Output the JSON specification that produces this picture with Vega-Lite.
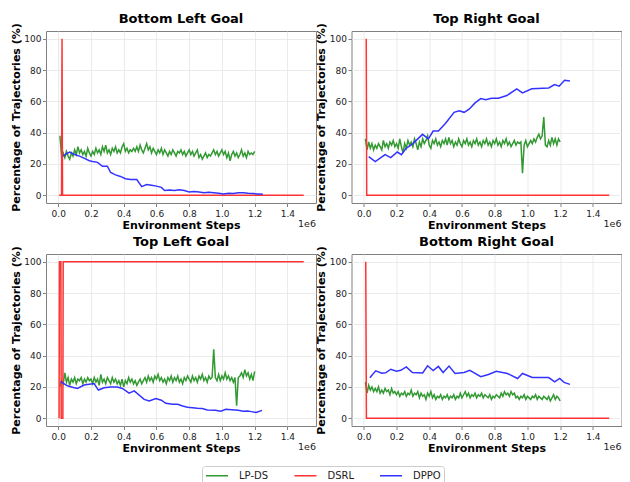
{
  "$schema": "https://vega.github.io/schema/vega-lite/v6.json",
  "padding": {"left": 9, "top": 12, "right": 0, "bottom": 0},
  "background": "white",
  "datasets": {
    "bl": [
      {"m":"LP-DS","x":10000,"y":38},{"m":"LP-DS","x":20000,"y":25},{"m":"LP-DS","x":30000,"y":27},{"m":"LP-DS","x":40000,"y":24},{"m":"LP-DS","x":50000,"y":28},{"m":"LP-DS","x":60000,"y":25},{"m":"LP-DS","x":70000,"y":23},{"m":"LP-DS","x":80000,"y":27},{"m":"LP-DS","x":90000,"y":25},{"m":"LP-DS","x":100000,"y":29},
      {"m":"LP-DS","x":110000,"y":26},{"m":"LP-DS","x":120000,"y":31},{"m":"LP-DS","x":130000,"y":27},{"m":"LP-DS","x":140000,"y":29},{"m":"LP-DS","x":150000,"y":26},{"m":"LP-DS","x":160000,"y":28},{"m":"LP-DS","x":170000,"y":25},{"m":"LP-DS","x":180000,"y":30},{"m":"LP-DS","x":190000,"y":27},{"m":"LP-DS","x":200000,"y":25},
      {"m":"LP-DS","x":210000,"y":28},{"m":"LP-DS","x":220000,"y":26},{"m":"LP-DS","x":230000,"y":30},{"m":"LP-DS","x":240000,"y":27},{"m":"LP-DS","x":250000,"y":29},{"m":"LP-DS","x":260000,"y":26},{"m":"LP-DS","x":270000,"y":31},{"m":"LP-DS","x":280000,"y":28},{"m":"LP-DS","x":290000,"y":32},{"m":"LP-DS","x":300000,"y":27},
      {"m":"LP-DS","x":310000,"y":29},{"m":"LP-DS","x":320000,"y":26},{"m":"LP-DS","x":330000,"y":30},{"m":"LP-DS","x":340000,"y":28},{"m":"LP-DS","x":350000,"y":31},{"m":"LP-DS","x":360000,"y":27},{"m":"LP-DS","x":370000,"y":29},{"m":"LP-DS","x":380000,"y":27},{"m":"LP-DS","x":390000,"y":31},{"m":"LP-DS","x":400000,"y":33},
      {"m":"LP-DS","x":410000,"y":28},{"m":"LP-DS","x":420000,"y":30},{"m":"LP-DS","x":430000,"y":27},{"m":"LP-DS","x":440000,"y":29},{"m":"LP-DS","x":450000,"y":28},{"m":"LP-DS","x":460000,"y":30},{"m":"LP-DS","x":470000,"y":28},{"m":"LP-DS","x":480000,"y":31},{"m":"LP-DS","x":490000,"y":28},{"m":"LP-DS","x":500000,"y":32},
      {"m":"LP-DS","x":510000,"y":29},{"m":"LP-DS","x":520000,"y":27},{"m":"LP-DS","x":530000,"y":30},{"m":"LP-DS","x":540000,"y":33},{"m":"LP-DS","x":550000,"y":29},{"m":"LP-DS","x":560000,"y":31},{"m":"LP-DS","x":570000,"y":27},{"m":"LP-DS","x":580000,"y":30},{"m":"LP-DS","x":590000,"y":28},{"m":"LP-DS","x":600000,"y":26},
      {"m":"LP-DS","x":610000,"y":29},{"m":"LP-DS","x":620000,"y":27},{"m":"LP-DS","x":630000,"y":30},{"m":"LP-DS","x":640000,"y":26},{"m":"LP-DS","x":650000,"y":29},{"m":"LP-DS","x":660000,"y":27},{"m":"LP-DS","x":670000,"y":25},{"m":"LP-DS","x":680000,"y":28},{"m":"LP-DS","x":690000,"y":26},{"m":"LP-DS","x":700000,"y":29},
      {"m":"LP-DS","x":710000,"y":27},{"m":"LP-DS","x":720000,"y":25},{"m":"LP-DS","x":730000,"y":28},{"m":"LP-DS","x":740000,"y":27},{"m":"LP-DS","x":750000,"y":29},{"m":"LP-DS","x":760000,"y":26},{"m":"LP-DS","x":770000,"y":28},{"m":"LP-DS","x":780000,"y":25},{"m":"LP-DS","x":790000,"y":27},{"m":"LP-DS","x":800000,"y":29},
      {"m":"LP-DS","x":810000,"y":26},{"m":"LP-DS","x":820000,"y":28},{"m":"LP-DS","x":830000,"y":25},{"m":"LP-DS","x":840000,"y":27},{"m":"LP-DS","x":850000,"y":29},{"m":"LP-DS","x":860000,"y":24},{"m":"LP-DS","x":870000,"y":26},{"m":"LP-DS","x":880000,"y":23},{"m":"LP-DS","x":890000,"y":25},{"m":"LP-DS","x":900000,"y":27},
      {"m":"LP-DS","x":910000,"y":24},{"m":"LP-DS","x":920000,"y":26},{"m":"LP-DS","x":930000,"y":25},{"m":"LP-DS","x":940000,"y":27},{"m":"LP-DS","x":950000,"y":29},{"m":"LP-DS","x":960000,"y":26},{"m":"LP-DS","x":970000,"y":28},{"m":"LP-DS","x":980000,"y":25},{"m":"LP-DS","x":990000,"y":27},{"m":"LP-DS","x":1000000,"y":29},
      {"m":"LP-DS","x":1010000,"y":26},{"m":"LP-DS","x":1020000,"y":28},{"m":"LP-DS","x":1030000,"y":24},{"m":"LP-DS","x":1040000,"y":27},{"m":"LP-DS","x":1050000,"y":22},{"m":"LP-DS","x":1060000,"y":26},{"m":"LP-DS","x":1070000,"y":28},{"m":"LP-DS","x":1080000,"y":25},{"m":"LP-DS","x":1090000,"y":27},{"m":"LP-DS","x":1100000,"y":24},
      {"m":"LP-DS","x":1110000,"y":26},{"m":"LP-DS","x":1120000,"y":29},{"m":"LP-DS","x":1130000,"y":25},{"m":"LP-DS","x":1140000,"y":27},{"m":"LP-DS","x":1150000,"y":24},{"m":"LP-DS","x":1160000,"y":28},{"m":"LP-DS","x":1170000,"y":26},{"m":"LP-DS","x":1180000,"y":27},{"m":"LP-DS","x":1190000,"y":26},{"m":"LP-DS","x":1200000,"y":28},
      {"m":"DSRL","x":5000,"y":0},{"m":"DSRL","x":20000,"y":0},{"m":"DSRL","x":23000,"y":100},{"m":"DSRL","x":26000,"y":0},{"m":"DSRL","x":1500000,"y":0},
      {"m":"DPPO","x":30000,"y":25},{"m":"DPPO","x":50000,"y":26.5},{"m":"DPPO","x":70000,"y":27.5},{"m":"DPPO","x":100000,"y":26},{"m":"DPPO","x":130000,"y":25},{"m":"DPPO","x":160000,"y":23.5},{"m":"DPPO","x":190000,"y":22},{"m":"DPPO","x":210000,"y":21.5},{"m":"DPPO","x":240000,"y":21},{"m":"DPPO","x":270000,"y":18.5},{"m":"DPPO","x":300000,"y":18.5},{"m":"DPPO","x":320000,"y":14.5},{"m":"DPPO","x":350000,"y":13},{"m":"DPPO","x":380000,"y":12},{"m":"DPPO","x":410000,"y":10.5},{"m":"DPPO","x":440000,"y":10},{"m":"DPPO","x":480000,"y":10},{"m":"DPPO","x":510000,"y":5.5},{"m":"DPPO","x":540000,"y":6.8},{"m":"DPPO","x":570000,"y":6.3},{"m":"DPPO","x":600000,"y":5.8},{"m":"DPPO","x":630000,"y":5},{"m":"DPPO","x":650000,"y":3},{"m":"DPPO","x":680000,"y":3.3},{"m":"DPPO","x":710000,"y":3},{"m":"DPPO","x":740000,"y":3.5},{"m":"DPPO","x":770000,"y":3},{"m":"DPPO","x":800000,"y":2},{"m":"DPPO","x":830000,"y":2.3},{"m":"DPPO","x":860000,"y":2},{"m":"DPPO","x":890000,"y":1.5},{"m":"DPPO","x":920000,"y":1.8},{"m":"DPPO","x":950000,"y":1.5},{"m":"DPPO","x":980000,"y":1.2},{"m":"DPPO","x":1010000,"y":0.8},{"m":"DPPO","x":1040000,"y":1.3},{"m":"DPPO","x":1070000,"y":1.1},{"m":"DPPO","x":1100000,"y":1.5},{"m":"DPPO","x":1130000,"y":1.6},{"m":"DPPO","x":1160000,"y":1.2},{"m":"DPPO","x":1190000,"y":1},{"m":"DPPO","x":1220000,"y":0.8},{"m":"DPPO","x":1250000,"y":0.6}
    ],
    "tr": [
      {"m":"LP-DS","x":10000,"y":36},{"m":"LP-DS","x":20000,"y":29},{"m":"LP-DS","x":30000,"y":34},{"m":"LP-DS","x":40000,"y":30},{"m":"LP-DS","x":50000,"y":33},{"m":"LP-DS","x":60000,"y":29},{"m":"LP-DS","x":70000,"y":32},{"m":"LP-DS","x":80000,"y":30},{"m":"LP-DS","x":90000,"y":33},{"m":"LP-DS","x":100000,"y":31},
      {"m":"LP-DS","x":110000,"y":29},{"m":"LP-DS","x":120000,"y":35},{"m":"LP-DS","x":130000,"y":31},{"m":"LP-DS","x":140000,"y":33},{"m":"LP-DS","x":150000,"y":30},{"m":"LP-DS","x":160000,"y":34},{"m":"LP-DS","x":170000,"y":32},{"m":"LP-DS","x":180000,"y":35},{"m":"LP-DS","x":190000,"y":31},{"m":"LP-DS","x":200000,"y":33},
      {"m":"LP-DS","x":210000,"y":30},{"m":"LP-DS","x":220000,"y":36},{"m":"LP-DS","x":230000,"y":31},{"m":"LP-DS","x":240000,"y":27},{"m":"LP-DS","x":250000,"y":33},{"m":"LP-DS","x":260000,"y":30},{"m":"LP-DS","x":270000,"y":35},{"m":"LP-DS","x":280000,"y":32},{"m":"LP-DS","x":290000,"y":34},{"m":"LP-DS","x":300000,"y":31},
      {"m":"LP-DS","x":310000,"y":36},{"m":"LP-DS","x":320000,"y":33},{"m":"LP-DS","x":330000,"y":29},{"m":"LP-DS","x":340000,"y":34},{"m":"LP-DS","x":350000,"y":31},{"m":"LP-DS","x":360000,"y":36},{"m":"LP-DS","x":370000,"y":33},{"m":"LP-DS","x":380000,"y":35},{"m":"LP-DS","x":390000,"y":38},{"m":"LP-DS","x":400000,"y":32},
      {"m":"LP-DS","x":410000,"y":30},{"m":"LP-DS","x":420000,"y":35},{"m":"LP-DS","x":430000,"y":33},{"m":"LP-DS","x":440000,"y":36},{"m":"LP-DS","x":450000,"y":32},{"m":"LP-DS","x":460000,"y":34},{"m":"LP-DS","x":470000,"y":31},{"m":"LP-DS","x":480000,"y":35},{"m":"LP-DS","x":490000,"y":33},{"m":"LP-DS","x":500000,"y":36},
      {"m":"LP-DS","x":510000,"y":32},{"m":"LP-DS","x":520000,"y":37},{"m":"LP-DS","x":530000,"y":33},{"m":"LP-DS","x":540000,"y":35},{"m":"LP-DS","x":550000,"y":31},{"m":"LP-DS","x":560000,"y":34},{"m":"LP-DS","x":570000,"y":32},{"m":"LP-DS","x":580000,"y":36},{"m":"LP-DS","x":590000,"y":33},{"m":"LP-DS","x":600000,"y":31},
      {"m":"LP-DS","x":610000,"y":35},{"m":"LP-DS","x":620000,"y":33},{"m":"LP-DS","x":630000,"y":36},{"m":"LP-DS","x":640000,"y":32},{"m":"LP-DS","x":650000,"y":34},{"m":"LP-DS","x":660000,"y":31},{"m":"LP-DS","x":670000,"y":35},{"m":"LP-DS","x":680000,"y":33},{"m":"LP-DS","x":690000,"y":36},{"m":"LP-DS","x":700000,"y":32},
      {"m":"LP-DS","x":710000,"y":34},{"m":"LP-DS","x":720000,"y":31},{"m":"LP-DS","x":730000,"y":35},{"m":"LP-DS","x":740000,"y":33},{"m":"LP-DS","x":750000,"y":36},{"m":"LP-DS","x":760000,"y":32},{"m":"LP-DS","x":770000,"y":34},{"m":"LP-DS","x":780000,"y":31},{"m":"LP-DS","x":790000,"y":35},{"m":"LP-DS","x":800000,"y":33},
      {"m":"LP-DS","x":810000,"y":36},{"m":"LP-DS","x":820000,"y":32},{"m":"LP-DS","x":830000,"y":34},{"m":"LP-DS","x":840000,"y":31},{"m":"LP-DS","x":850000,"y":35},{"m":"LP-DS","x":860000,"y":33},{"m":"LP-DS","x":870000,"y":36},{"m":"LP-DS","x":880000,"y":32},{"m":"LP-DS","x":890000,"y":34},{"m":"LP-DS","x":900000,"y":31},
      {"m":"LP-DS","x":910000,"y":33},{"m":"LP-DS","x":920000,"y":35},{"m":"LP-DS","x":930000,"y":32},{"m":"LP-DS","x":940000,"y":34},{"m":"LP-DS","x":950000,"y":33},{"m":"LP-DS","x":960000,"y":34},{"m":"LP-DS","x":970000,"y":14},{"m":"LP-DS","x":980000,"y":32},{"m":"LP-DS","x":990000,"y":35},{"m":"LP-DS","x":1000000,"y":31},
      {"m":"LP-DS","x":1010000,"y":33},{"m":"LP-DS","x":1020000,"y":35},{"m":"LP-DS","x":1030000,"y":33},{"m":"LP-DS","x":1040000,"y":36},{"m":"LP-DS","x":1050000,"y":34},{"m":"LP-DS","x":1060000,"y":37},{"m":"LP-DS","x":1070000,"y":39},{"m":"LP-DS","x":1080000,"y":36},{"m":"LP-DS","x":1090000,"y":38},{"m":"LP-DS","x":1100000,"y":50},
      {"m":"LP-DS","x":1110000,"y":32},{"m":"LP-DS","x":1120000,"y":31},{"m":"LP-DS","x":1130000,"y":35},{"m":"LP-DS","x":1140000,"y":32},{"m":"LP-DS","x":1150000,"y":37},{"m":"LP-DS","x":1160000,"y":33},{"m":"LP-DS","x":1170000,"y":36},{"m":"LP-DS","x":1180000,"y":32},{"m":"LP-DS","x":1190000,"y":36},{"m":"LP-DS","x":1200000,"y":34},
      {"m":"DSRL","x":15000,"y":100},{"m":"DSRL","x":18000,"y":0},{"m":"DSRL","x":1500000,"y":0},
      {"m":"DPPO","x":30000,"y":24.6},{"m":"DPPO","x":70000,"y":21.5},{"m":"DPPO","x":130000,"y":26},{"m":"DPPO","x":165000,"y":24},{"m":"DPPO","x":205000,"y":27.6},{"m":"DPPO","x":230000,"y":25.9},{"m":"DPPO","x":256000,"y":29.7},{"m":"DPPO","x":300000,"y":33},{"m":"DPPO","x":330000,"y":36},{"m":"DPPO","x":359000,"y":38.9},{"m":"DPPO","x":395000,"y":36},{"m":"DPPO","x":424000,"y":41},{"m":"DPPO","x":456000,"y":41},{"m":"DPPO","x":500000,"y":46},{"m":"DPPO","x":552000,"y":53},{"m":"DPPO","x":583000,"y":54},{"m":"DPPO","x":613000,"y":53},{"m":"DPPO","x":644000,"y":55},{"m":"DPPO","x":680000,"y":59},{"m":"DPPO","x":715000,"y":61.8},{"m":"DPPO","x":746000,"y":61},{"m":"DPPO","x":780000,"y":62},{"m":"DPPO","x":823000,"y":62},{"m":"DPPO","x":874000,"y":63.7},{"m":"DPPO","x":935000,"y":68},{"m":"DPPO","x":970000,"y":65.4},{"m":"DPPO","x":1027000,"y":68},{"m":"DPPO","x":1130000,"y":68.6},{"m":"DPPO","x":1166000,"y":70.7},{"m":"DPPO","x":1194000,"y":69.7},{"m":"DPPO","x":1227000,"y":73.5},{"m":"DPPO","x":1260000,"y":73}
    ],
    "tl": [
      {"m":"LP-DS","x":10000,"y":20},{"m":"LP-DS","x":20000,"y":24},{"m":"LP-DS","x":30000,"y":22},{"m":"LP-DS","x":40000,"y":29},{"m":"LP-DS","x":50000,"y":23},{"m":"LP-DS","x":60000,"y":26},{"m":"LP-DS","x":70000,"y":21},{"m":"LP-DS","x":80000,"y":25},{"m":"LP-DS","x":90000,"y":23},{"m":"LP-DS","x":100000,"y":26},
      {"m":"LP-DS","x":110000,"y":22},{"m":"LP-DS","x":120000,"y":25},{"m":"LP-DS","x":130000,"y":24},{"m":"LP-DS","x":140000,"y":26},{"m":"LP-DS","x":150000,"y":22},{"m":"LP-DS","x":160000,"y":25},{"m":"LP-DS","x":170000,"y":23},{"m":"LP-DS","x":180000,"y":26},{"m":"LP-DS","x":190000,"y":24},{"m":"LP-DS","x":200000,"y":25},
      {"m":"LP-DS","x":210000,"y":22},{"m":"LP-DS","x":220000,"y":26},{"m":"LP-DS","x":230000,"y":23},{"m":"LP-DS","x":240000,"y":25},{"m":"LP-DS","x":250000,"y":21},{"m":"LP-DS","x":260000,"y":28},{"m":"LP-DS","x":270000,"y":23},{"m":"LP-DS","x":280000,"y":25},{"m":"LP-DS","x":290000,"y":22},{"m":"LP-DS","x":300000,"y":26},
      {"m":"LP-DS","x":310000,"y":24},{"m":"LP-DS","x":320000,"y":22},{"m":"LP-DS","x":330000,"y":26},{"m":"LP-DS","x":340000,"y":23},{"m":"LP-DS","x":350000,"y":25},{"m":"LP-DS","x":360000,"y":22},{"m":"LP-DS","x":370000,"y":24},{"m":"LP-DS","x":380000,"y":21},{"m":"LP-DS","x":390000,"y":25},{"m":"LP-DS","x":400000,"y":20},
      {"m":"LP-DS","x":410000,"y":24},{"m":"LP-DS","x":420000,"y":22},{"m":"LP-DS","x":430000,"y":26},{"m":"LP-DS","x":440000,"y":23},{"m":"LP-DS","x":450000,"y":25},{"m":"LP-DS","x":460000,"y":22},{"m":"LP-DS","x":470000,"y":24},{"m":"LP-DS","x":480000,"y":21},{"m":"LP-DS","x":490000,"y":23},{"m":"LP-DS","x":500000,"y":25},
      {"m":"LP-DS","x":510000,"y":22},{"m":"LP-DS","x":520000,"y":24},{"m":"LP-DS","x":530000,"y":26},{"m":"LP-DS","x":540000,"y":23},{"m":"LP-DS","x":550000,"y":27},{"m":"LP-DS","x":560000,"y":24},{"m":"LP-DS","x":570000,"y":26},{"m":"LP-DS","x":580000,"y":23},{"m":"LP-DS","x":590000,"y":27},{"m":"LP-DS","x":600000,"y":25},
      {"m":"LP-DS","x":610000,"y":28},{"m":"LP-DS","x":620000,"y":24},{"m":"LP-DS","x":630000,"y":26},{"m":"LP-DS","x":640000,"y":23},{"m":"LP-DS","x":650000,"y":25},{"m":"LP-DS","x":660000,"y":22},{"m":"LP-DS","x":670000,"y":26},{"m":"LP-DS","x":680000,"y":24},{"m":"LP-DS","x":690000,"y":27},{"m":"LP-DS","x":700000,"y":23},
      {"m":"LP-DS","x":710000,"y":26},{"m":"LP-DS","x":720000,"y":24},{"m":"LP-DS","x":730000,"y":27},{"m":"LP-DS","x":740000,"y":23},{"m":"LP-DS","x":750000,"y":25},{"m":"LP-DS","x":760000,"y":22},{"m":"LP-DS","x":770000,"y":26},{"m":"LP-DS","x":780000,"y":24},{"m":"LP-DS","x":790000,"y":27},{"m":"LP-DS","x":800000,"y":25},
      {"m":"LP-DS","x":810000,"y":23},{"m":"LP-DS","x":820000,"y":27},{"m":"LP-DS","x":830000,"y":24},{"m":"LP-DS","x":840000,"y":26},{"m":"LP-DS","x":850000,"y":23},{"m":"LP-DS","x":860000,"y":27},{"m":"LP-DS","x":870000,"y":25},{"m":"LP-DS","x":880000,"y":28},{"m":"LP-DS","x":890000,"y":24},{"m":"LP-DS","x":900000,"y":26},
      {"m":"LP-DS","x":910000,"y":23},{"m":"LP-DS","x":920000,"y":27},{"m":"LP-DS","x":930000,"y":25},{"m":"LP-DS","x":940000,"y":26},{"m":"LP-DS","x":950000,"y":44},{"m":"LP-DS","x":960000,"y":26},{"m":"LP-DS","x":970000,"y":24},{"m":"LP-DS","x":980000,"y":28},{"m":"LP-DS","x":990000,"y":24},{"m":"LP-DS","x":1000000,"y":27},
      {"m":"LP-DS","x":1010000,"y":25},{"m":"LP-DS","x":1020000,"y":29},{"m":"LP-DS","x":1030000,"y":25},{"m":"LP-DS","x":1040000,"y":27},{"m":"LP-DS","x":1050000,"y":24},{"m":"LP-DS","x":1060000,"y":26},{"m":"LP-DS","x":1070000,"y":23},{"m":"LP-DS","x":1080000,"y":26},{"m":"LP-DS","x":1090000,"y":8},{"m":"LP-DS","x":1100000,"y":26},
      {"m":"LP-DS","x":1110000,"y":27},{"m":"LP-DS","x":1120000,"y":29},{"m":"LP-DS","x":1130000,"y":26},{"m":"LP-DS","x":1140000,"y":31},{"m":"LP-DS","x":1150000,"y":27},{"m":"LP-DS","x":1160000,"y":29},{"m":"LP-DS","x":1170000,"y":25},{"m":"LP-DS","x":1180000,"y":28},{"m":"LP-DS","x":1190000,"y":24},{"m":"LP-DS","x":1200000,"y":30},
      {"m":"DSRL","x":5000,"y":0},{"m":"DSRL","x":7000,"y":100},{"m":"DSRL","x":16000,"y":100},{"m":"DSRL","x":18000,"y":0},{"m":"DSRL","x":28000,"y":0},{"m":"DSRL","x":30000,"y":100},{"m":"DSRL","x":1500000,"y":100},
      {"m":"DPPO","x":15000,"y":23.3},{"m":"DPPO","x":56000,"y":20.7},{"m":"DPPO","x":80000,"y":20},{"m":"DPPO","x":117000,"y":19},{"m":"DPPO","x":158000,"y":21.2},{"m":"DPPO","x":219000,"y":22.2},{"m":"DPPO","x":245000,"y":18},{"m":"DPPO","x":280000,"y":19.5},{"m":"DPPO","x":320000,"y":20},{"m":"DPPO","x":360000,"y":20},{"m":"DPPO","x":392000,"y":19},{"m":"DPPO","x":433000,"y":16},{"m":"DPPO","x":464000,"y":17.5},{"m":"DPPO","x":525000,"y":12},{"m":"DPPO","x":556000,"y":11},{"m":"DPPO","x":596000,"y":12.5},{"m":"DPPO","x":630000,"y":11.5},{"m":"DPPO","x":657000,"y":9.5},{"m":"DPPO","x":700000,"y":8.9},{"m":"DPPO","x":730000,"y":8.9},{"m":"DPPO","x":760000,"y":7.8},{"m":"DPPO","x":790000,"y":7},{"m":"DPPO","x":850000,"y":6.3},{"m":"DPPO","x":880000,"y":6.2},{"m":"DPPO","x":910000,"y":5.3},{"m":"DPPO","x":960000,"y":5},{"m":"DPPO","x":993000,"y":4.4},{"m":"DPPO","x":1024000,"y":5.7},{"m":"DPPO","x":1060000,"y":5.4},{"m":"DPPO","x":1100000,"y":5},{"m":"DPPO","x":1130000,"y":4.5},{"m":"DPPO","x":1157000,"y":4.6},{"m":"DPPO","x":1180000,"y":4.2},{"m":"DPPO","x":1210000,"y":3.6},{"m":"DPPO","x":1245000,"y":5}
    ],
    "br": [
      {"m":"LP-DS","x":10000,"y":23},{"m":"LP-DS","x":20000,"y":16},{"m":"LP-DS","x":30000,"y":21},{"m":"LP-DS","x":40000,"y":18},{"m":"LP-DS","x":50000,"y":20},{"m":"LP-DS","x":60000,"y":17},{"m":"LP-DS","x":70000,"y":19},{"m":"LP-DS","x":80000,"y":17},{"m":"LP-DS","x":90000,"y":20},{"m":"LP-DS","x":100000,"y":16},
      {"m":"LP-DS","x":110000,"y":18},{"m":"LP-DS","x":120000,"y":16},{"m":"LP-DS","x":130000,"y":19},{"m":"LP-DS","x":140000,"y":17},{"m":"LP-DS","x":150000,"y":18},{"m":"LP-DS","x":160000,"y":15},{"m":"LP-DS","x":170000,"y":19},{"m":"LP-DS","x":180000,"y":16},{"m":"LP-DS","x":190000,"y":17},{"m":"LP-DS","x":200000,"y":15},
      {"m":"LP-DS","x":210000,"y":17},{"m":"LP-DS","x":220000,"y":14},{"m":"LP-DS","x":230000,"y":16},{"m":"LP-DS","x":240000,"y":15},{"m":"LP-DS","x":250000,"y":17},{"m":"LP-DS","x":260000,"y":14},{"m":"LP-DS","x":270000,"y":16},{"m":"LP-DS","x":280000,"y":15},{"m":"LP-DS","x":290000,"y":18},{"m":"LP-DS","x":300000,"y":14},
      {"m":"LP-DS","x":310000,"y":16},{"m":"LP-DS","x":320000,"y":15},{"m":"LP-DS","x":330000,"y":17},{"m":"LP-DS","x":340000,"y":13},{"m":"LP-DS","x":350000,"y":16},{"m":"LP-DS","x":360000,"y":14},{"m":"LP-DS","x":370000,"y":15},{"m":"LP-DS","x":380000,"y":12},{"m":"LP-DS","x":390000,"y":16},{"m":"LP-DS","x":400000,"y":14},
      {"m":"LP-DS","x":410000,"y":17},{"m":"LP-DS","x":420000,"y":13},{"m":"LP-DS","x":430000,"y":15},{"m":"LP-DS","x":440000,"y":12},{"m":"LP-DS","x":450000,"y":14},{"m":"LP-DS","x":460000,"y":13},{"m":"LP-DS","x":470000,"y":15},{"m":"LP-DS","x":480000,"y":12},{"m":"LP-DS","x":490000,"y":14},{"m":"LP-DS","x":500000,"y":13},
      {"m":"LP-DS","x":510000,"y":15},{"m":"LP-DS","x":520000,"y":12},{"m":"LP-DS","x":530000,"y":14},{"m":"LP-DS","x":540000,"y":13},{"m":"LP-DS","x":550000,"y":15},{"m":"LP-DS","x":560000,"y":12},{"m":"LP-DS","x":570000,"y":14},{"m":"LP-DS","x":580000,"y":13},{"m":"LP-DS","x":590000,"y":16},{"m":"LP-DS","x":600000,"y":13},
      {"m":"LP-DS","x":610000,"y":15},{"m":"LP-DS","x":620000,"y":17},{"m":"LP-DS","x":630000,"y":14},{"m":"LP-DS","x":640000,"y":16},{"m":"LP-DS","x":650000,"y":13},{"m":"LP-DS","x":660000,"y":15},{"m":"LP-DS","x":670000,"y":14},{"m":"LP-DS","x":680000,"y":16},{"m":"LP-DS","x":690000,"y":13},{"m":"LP-DS","x":700000,"y":15},
      {"m":"LP-DS","x":710000,"y":14},{"m":"LP-DS","x":720000,"y":16},{"m":"LP-DS","x":730000,"y":13},{"m":"LP-DS","x":740000,"y":15},{"m":"LP-DS","x":750000,"y":14},{"m":"LP-DS","x":760000,"y":13},{"m":"LP-DS","x":770000,"y":15},{"m":"LP-DS","x":780000,"y":12},{"m":"LP-DS","x":790000,"y":14},{"m":"LP-DS","x":800000,"y":13},
      {"m":"LP-DS","x":810000,"y":15},{"m":"LP-DS","x":820000,"y":14},{"m":"LP-DS","x":830000,"y":13},{"m":"LP-DS","x":840000,"y":16},{"m":"LP-DS","x":850000,"y":14},{"m":"LP-DS","x":860000,"y":17},{"m":"LP-DS","x":870000,"y":15},{"m":"LP-DS","x":880000,"y":16},{"m":"LP-DS","x":890000,"y":14},{"m":"LP-DS","x":900000,"y":17},
      {"m":"LP-DS","x":910000,"y":15},{"m":"LP-DS","x":920000,"y":16},{"m":"LP-DS","x":930000,"y":13},{"m":"LP-DS","x":940000,"y":14},{"m":"LP-DS","x":950000,"y":12},{"m":"LP-DS","x":960000,"y":14},{"m":"LP-DS","x":970000,"y":13},{"m":"LP-DS","x":980000,"y":15},{"m":"LP-DS","x":990000,"y":12},{"m":"LP-DS","x":1000000,"y":14},
      {"m":"LP-DS","x":1010000,"y":13},{"m":"LP-DS","x":1020000,"y":12},{"m":"LP-DS","x":1030000,"y":14},{"m":"LP-DS","x":1040000,"y":13},{"m":"LP-DS","x":1050000,"y":15},{"m":"LP-DS","x":1060000,"y":12},{"m":"LP-DS","x":1070000,"y":14},{"m":"LP-DS","x":1080000,"y":13},{"m":"LP-DS","x":1090000,"y":12},{"m":"LP-DS","x":1100000,"y":14},
      {"m":"LP-DS","x":1110000,"y":13},{"m":"LP-DS","x":1120000,"y":12},{"m":"LP-DS","x":1130000,"y":14},{"m":"LP-DS","x":1140000,"y":11},{"m":"LP-DS","x":1150000,"y":13},{"m":"LP-DS","x":1160000,"y":15},{"m":"LP-DS","x":1170000,"y":12},{"m":"LP-DS","x":1180000,"y":14},{"m":"LP-DS","x":1190000,"y":13},{"m":"LP-DS","x":1200000,"y":11},
      {"m":"DSRL","x":12000,"y":100},{"m":"DSRL","x":16000,"y":0},{"m":"DSRL","x":1500000,"y":0},
      {"m":"DPPO","x":37000,"y":25.8},{"m":"DPPO","x":73000,"y":30.3},{"m":"DPPO","x":110000,"y":28.8},{"m":"DPPO","x":134000,"y":29},{"m":"DPPO","x":165000,"y":31.3},{"m":"DPPO","x":200000,"y":30},{"m":"DPPO","x":226000,"y":30.6},{"m":"DPPO","x":260000,"y":32.8},{"m":"DPPO","x":297000,"y":29.2},{"m":"DPPO","x":360000,"y":28.9},{"m":"DPPO","x":390000,"y":33.5},{"m":"DPPO","x":424000,"y":30.5},{"m":"DPPO","x":456000,"y":33.1},{"m":"DPPO","x":485000,"y":29.2},{"m":"DPPO","x":521000,"y":33.3},{"m":"DPPO","x":558000,"y":28.6},{"m":"DPPO","x":613000,"y":29.2},{"m":"DPPO","x":648000,"y":30.6},{"m":"DPPO","x":715000,"y":26.5},{"m":"DPPO","x":762000,"y":27.9},{"m":"DPPO","x":810000,"y":30},{"m":"DPPO","x":878000,"y":28.6},{"m":"DPPO","x":940000,"y":25.4},{"m":"DPPO","x":970000,"y":28.6},{"m":"DPPO","x":1030000,"y":26},{"m":"DPPO","x":1130000,"y":26},{"m":"DPPO","x":1167000,"y":23.3},{"m":"DPPO","x":1197000,"y":25.4},{"m":"DPPO","x":1224000,"y":22.9},{"m":"DPPO","x":1260000,"y":21.6}
    ]
  },
  "columns": 2,
  "spacing": {"row": 4, "column": -2.5},
  "concat": [
    {
      "title": "Bottom Left Goal",
      "width": 270, "height": 172,
      "data": {"name": "bl"},
      "layer": [
        {"mark": {"type": "line", "strokeWidth": 1.5},
         "encoding": {
           "x": {"field": "x", "type": "quantitative", "scale": {"domain": [-75000, 1575000], "nice": false, "zero": false}, "axis": {"values": [0,200000,400000,600000,800000,1000000,1200000,1400000], "labelExpr": "format(datum.value/1000000,'.1f')", "title": "Environment Steps"}},
           "y": {"field": "y", "type": "quantitative", "scale": {"domain": [-5, 105], "nice": false, "zero": false}, "axis": {"values": [0,20,40,60,80,100], "title": "Percentage of Trajectories (%)"}},
           "color": {"field": "m", "type": "nominal", "sort": ["LP-DS","DSRL","DPPO"], "scale": {"domain": ["LP-DS","DSRL","DPPO"], "range": ["#339933","#ff3333","#3333ff"]}, "legend": {"orient": "none", "legendX": 156, "legendY": 435, "direction": "horizontal", "title": null, "symbolType": "M-1,0H3", "symbolSize": 121, "symbolStrokeWidth": 1.5, "labelFontSize": 10, "labelOffset": 21, "columnPadding": 22.5, "padding": 3, "strokeColor": "#cccccc", "fillColor": "white", "cornerRadius": 3}}
         }},
        {"transform": [{"filter": "datum.m == 'DSRL' && datum.x == 1500000"}],
         "mark": {"type": "text", "text": "1e6", "align": "right", "baseline": "middle", "dy": 20.5, "fontSize": 9.5, "font": "DejaVu Sans", "color": "#222222"},
         "encoding": {
           "x": {"datum": 1575000, "type": "quantitative", "axis": {"values": [0,200000,400000,600000,800000,1000000,1200000,1400000], "labelExpr": "format(datum.value/1000000,'.1f')", "title": "Environment Steps"}},
           "y": {"datum": -5, "type": "quantitative", "axis": {"values": [0,20,40,60,80,100], "title": "Percentage of Trajectories (%)"}}}}
      ]
    },
    {
      "title": "Top Right Goal",
      "width": 270, "height": 172,
      "data": {"name": "tr"},
      "layer": [
        {"mark": {"type": "line", "strokeWidth": 1.5},
         "encoding": {
           "x": {"field": "x", "type": "quantitative", "scale": {"domain": [-75000, 1575000], "nice": false, "zero": false}, "axis": {"values": [0,200000,400000,600000,800000,1000000,1200000,1400000], "labelExpr": "format(datum.value/1000000,'.1f')", "title": "Environment Steps"}},
           "y": {"field": "y", "type": "quantitative", "scale": {"domain": [-5, 105], "nice": false, "zero": false}, "axis": {"values": [0,20,40,60,80,100], "title": "Percentage of Trajectories (%)"}},
           "color": {"field": "m", "type": "nominal", "sort": ["LP-DS","DSRL","DPPO"], "scale": {"domain": ["LP-DS","DSRL","DPPO"], "range": ["#339933","#ff3333","#3333ff"]}}
         }},
        {"transform": [{"filter": "datum.m == 'DSRL' && datum.x == 1500000"}],
         "mark": {"type": "text", "text": "1e6", "align": "right", "baseline": "middle", "dy": 20.5, "fontSize": 9.5, "font": "DejaVu Sans", "color": "#222222"},
         "encoding": {
           "x": {"datum": 1575000, "type": "quantitative", "axis": {"values": [0,200000,400000,600000,800000,1000000,1200000,1400000], "labelExpr": "format(datum.value/1000000,'.1f')", "title": "Environment Steps"}},
           "y": {"datum": -5, "type": "quantitative", "axis": {"values": [0,20,40,60,80,100], "title": "Percentage of Trajectories (%)"}}}}
      ]
    },
    {
      "title": "Top Left Goal",
      "width": 270, "height": 172,
      "data": {"name": "tl"},
      "layer": [
        {"mark": {"type": "line", "strokeWidth": 1.5},
         "encoding": {
           "x": {"field": "x", "type": "quantitative", "scale": {"domain": [-75000, 1575000], "nice": false, "zero": false}, "axis": {"values": [0,200000,400000,600000,800000,1000000,1200000,1400000], "labelExpr": "format(datum.value/1000000,'.1f')", "title": "Environment Steps"}},
           "y": {"field": "y", "type": "quantitative", "scale": {"domain": [-5, 105], "nice": false, "zero": false}, "axis": {"values": [0,20,40,60,80,100], "title": "Percentage of Trajectories (%)"}},
           "color": {"field": "m", "type": "nominal", "sort": ["LP-DS","DSRL","DPPO"], "scale": {"domain": ["LP-DS","DSRL","DPPO"], "range": ["#339933","#ff3333","#3333ff"]}}
         }},
        {"transform": [{"filter": "datum.m == 'DSRL' && datum.x == 1500000"}],
         "mark": {"type": "text", "text": "1e6", "align": "right", "baseline": "middle", "dy": 20.5, "fontSize": 9.5, "font": "DejaVu Sans", "color": "#222222"},
         "encoding": {
           "x": {"datum": 1575000, "type": "quantitative", "axis": {"values": [0,200000,400000,600000,800000,1000000,1200000,1400000], "labelExpr": "format(datum.value/1000000,'.1f')", "title": "Environment Steps"}},
           "y": {"datum": -5, "type": "quantitative", "axis": {"values": [0,20,40,60,80,100], "title": "Percentage of Trajectories (%)"}}}}
      ]
    },
    {
      "title": "Bottom Right Goal",
      "width": 270, "height": 172,
      "data": {"name": "br"},
      "layer": [
        {"mark": {"type": "line", "strokeWidth": 1.5},
         "encoding": {
           "x": {"field": "x", "type": "quantitative", "scale": {"domain": [-75000, 1575000], "nice": false, "zero": false}, "axis": {"values": [0,200000,400000,600000,800000,1000000,1200000,1400000], "labelExpr": "format(datum.value/1000000,'.1f')", "title": "Environment Steps"}},
           "y": {"field": "y", "type": "quantitative", "scale": {"domain": [-5, 105], "nice": false, "zero": false}, "axis": {"values": [0,20,40,60,80,100], "title": "Percentage of Trajectories (%)"}},
           "color": {"field": "m", "type": "nominal", "sort": ["LP-DS","DSRL","DPPO"], "scale": {"domain": ["LP-DS","DSRL","DPPO"], "range": ["#339933","#ff3333","#3333ff"]}}
         }},
        {"transform": [{"filter": "datum.m == 'DSRL' && datum.x == 1500000"}],
         "mark": {"type": "text", "text": "1e6", "align": "right", "baseline": "middle", "dy": 20.5, "fontSize": 9.5, "font": "DejaVu Sans", "color": "#222222"},
         "encoding": {
           "x": {"datum": 1575000, "type": "quantitative", "axis": {"values": [0,200000,400000,600000,800000,1000000,1200000,1400000], "labelExpr": "format(datum.value/1000000,'.1f')", "title": "Environment Steps"}},
           "y": {"datum": -5, "type": "quantitative", "axis": {"values": [0,20,40,60,80,100], "title": "Percentage of Trajectories (%)"}}}}
      ]
    }
  ],
  "resolve": {"scale": {"color": "shared"}, "legend": {"color": "shared"}},
  "config": {
    "font": "DejaVu Sans",
    "view": {"stroke": "#808080", "strokeWidth": 1},
    "title": {"fontSize": 13, "fontWeight": "bold", "font": "DejaVu Sans", "anchor": "middle", "frame": "group", "offset": -3, "color": "#000000"},
    "axis": {
      "domain": false,
      "grid": true, "gridColor": "#e6e6e6", "gridWidth": 0.8,
      "ticks": true, "tickColor": "#808080", "tickSize": 3.5,
      "labelOverlap": false,
      "labelFont": "DejaVu Sans", "labelFontSize": 9, "labelColor": "#222222", "labelPadding": 1.5,
      "titleFont": "DejaVu Sans", "titleFontSize": 11, "titleFontWeight": "bold", "titleColor": "#000000"
    },
    "axisX": {"titlePadding": 1, "labelFlush": false, "labelPadding": 2.5},
    "axisY": {"titlePadding": 2.5},
    "legend": {"labelFont": "DejaVu Sans", "labelColor": "#222222"}
  }
}
